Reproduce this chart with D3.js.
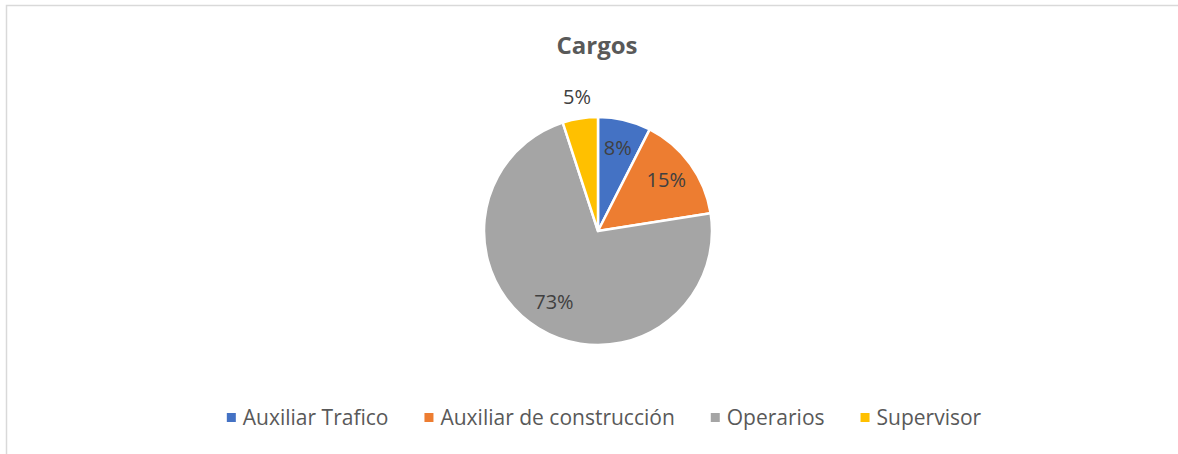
<!DOCTYPE html>
<html>
<head>
<meta charset="utf-8">
<script src="https://cdn.jsdelivr.net/npm/d3@7"></script>
<style>
  body { margin: 0; background: #fff; }
  text { font-family: "Open Sans", sans-serif; }
</style>
</head>
<body>
<svg width="1178" height="454"></svg>
<script>
// Data
var title = "Cargos";
var categories = ["Auxiliar Trafico", "Auxiliar de construcción", "Operarios", "Supervisor"];
var counts = [3, 6, 29, 2];
var colors = ["#4472C4", "#ED7D31", "#A5A5A5", "#FFC000"];

var svg = d3.select("svg"),
    width = +svg.attr("width"),
    height = +svg.attr("height");

// chart border (right/bottom run off the picture)
svg.append("rect")
  .attr("x", 6.5).attr("y", 5.5)
  .attr("width", width + 20).attr("height", height + 20)
  .attr("fill", "#fff")
  .attr("stroke", "#D9D9D9")
  .attr("stroke-width", 1.5);

// Title
svg.append("text")
  .attr("x", 597).attr("y", 54)
  .attr("text-anchor", "middle")
  .style("font-size", "24px")
  .style("font-weight", "bold")
  .style("fill", "#595959")
  .text(title);

var cx = 598, cy = 231, r = 114;
var total = d3.sum(counts);
var color = d3.scaleOrdinal().domain(categories).range(colors);

var pie = d3.pie().sort(null).value(function(d){ return d.v; });
var data = pie(categories.map(function(c, i){ return {name: c, v: counts[i]}; }));

var arc = d3.arc().innerRadius(0).outerRadius(r);
var inLabel = d3.arc().innerRadius(r * 0.74).outerRadius(r * 0.74);
var outLabel = d3.arc().innerRadius(r * 1.18).outerRadius(r * 1.18);

var g = svg.append("g").attr("transform", "translate(" + cx + "," + cy + ")");

g.selectAll("path")
  .data(data)
  .enter()
  .append("path")
    .attr("d", arc)
    .attr("fill", function(d){ return color(d.data.name); })
    .attr("stroke", "#fff")
    .attr("stroke-width", 2.5)
    .attr("stroke-linejoin", "round");

g.selectAll(".lbl")
  .data(data)
  .enter()
  .append("text")
    .attr("class", "lbl")
    .attr("transform", function(d){
      var p = (d.data.v / total < 0.06 ? outLabel : inLabel).centroid(d);
      return "translate(" + p[0] + "," + p[1] + ")";
    })
    .attr("dy", "0.3em")
    .attr("text-anchor", "middle")
    .style("font-size", "20px")
    .style("fill", "#404040")
    .text(function(d){ return Math.round(d.data.v / total * 100) + "%"; });

// Legend
var legend = svg.append("g");
var items = legend.selectAll("g")
  .data(categories)
  .enter()
  .append("g");

items.append("rect")
  .attr("width", 9).attr("height", 9)
  .attr("y", -5)
  .attr("fill", function(d){ return color(d); });

items.append("text")
  .attr("x", 16)
  .attr("y", 0)
  .attr("dy", "0.35em")
  .style("font-size", "21px")
  .style("fill", "#595959")
  .text(function(d){ return d; });

var gap = 36, x = 0, pos = [];
items.each(function(){
  var w = 16 + d3.select(this).select("text").node().getComputedTextLength();
  pos.push(x);
  x += w + gap;
});
var lw = x - gap, x0 = 604 - lw / 2;
items.attr("transform", function(d, i){ return "translate(" + (x0 + pos[i]) + ",418)"; });
</script>
</body>
</html>
